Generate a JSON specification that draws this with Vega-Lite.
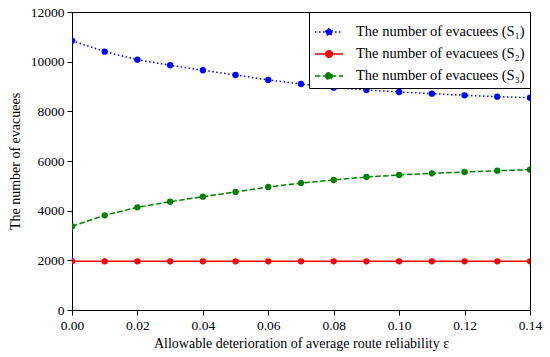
{
  "$schema": "https://vega.github.io/schema/vega-lite/v6.json",
  "width": 458,
  "height": 298,
  "autosize": "none",
  "padding": {"left": 72, "top": 12, "right": 20, "bottom": 47},
  "background": "white",
  "config": {
    "view": {"stroke": "black", "strokeWidth": 1},
    "font": "'Liberation Serif', 'DejaVu Serif', serif",
    "axis": {
      "grid": false,
      "domainColor": "black",
      "tickColor": "black",
      "tickSize": 5,
      "labelFont": "'Liberation Serif', 'DejaVu Serif', serif",
      "labelFontSize": 13.5,
      "labelColor": "black",
      "titleFont": "'Liberation Serif', 'DejaVu Serif', serif",
      "titleFontSize": 14,
      "titleFontWeight": "normal",
      "titleColor": "black"
    }
  },
  "data": {
    "values": [
      {"x": 0.00, "series": "The number of evacuees (S₁)", "value": 10845},
      {"x": 0.01, "series": "The number of evacuees (S₁)", "value": 10403},
      {"x": 0.02, "series": "The number of evacuees (S₁)", "value": 10081},
      {"x": 0.03, "series": "The number of evacuees (S₁)", "value": 9855},
      {"x": 0.04, "series": "The number of evacuees (S₁)", "value": 9653},
      {"x": 0.05, "series": "The number of evacuees (S₁)", "value": 9464},
      {"x": 0.06, "series": "The number of evacuees (S₁)", "value": 9263},
      {"x": 0.07, "series": "The number of evacuees (S₁)", "value": 9100},
      {"x": 0.08, "series": "The number of evacuees (S₁)", "value": 8953},
      {"x": 0.09, "series": "The number of evacuees (S₁)", "value": 8860},
      {"x": 0.10, "series": "The number of evacuees (S₁)", "value": 8780},
      {"x": 0.11, "series": "The number of evacuees (S₁)", "value": 8711},
      {"x": 0.12, "series": "The number of evacuees (S₁)", "value": 8645},
      {"x": 0.13, "series": "The number of evacuees (S₁)", "value": 8590},
      {"x": 0.14, "series": "The number of evacuees (S₁)", "value": 8550},
      {"x": 0.00, "series": "The number of evacuees (S₂)", "value": 1960},
      {"x": 0.01, "series": "The number of evacuees (S₂)", "value": 1960},
      {"x": 0.02, "series": "The number of evacuees (S₂)", "value": 1960},
      {"x": 0.03, "series": "The number of evacuees (S₂)", "value": 1960},
      {"x": 0.04, "series": "The number of evacuees (S₂)", "value": 1960},
      {"x": 0.05, "series": "The number of evacuees (S₂)", "value": 1960},
      {"x": 0.06, "series": "The number of evacuees (S₂)", "value": 1960},
      {"x": 0.07, "series": "The number of evacuees (S₂)", "value": 1960},
      {"x": 0.08, "series": "The number of evacuees (S₂)", "value": 1960},
      {"x": 0.09, "series": "The number of evacuees (S₂)", "value": 1960},
      {"x": 0.10, "series": "The number of evacuees (S₂)", "value": 1960},
      {"x": 0.11, "series": "The number of evacuees (S₂)", "value": 1960},
      {"x": 0.12, "series": "The number of evacuees (S₂)", "value": 1960},
      {"x": 0.13, "series": "The number of evacuees (S₂)", "value": 1960},
      {"x": 0.14, "series": "The number of evacuees (S₂)", "value": 1960},
      {"x": 0.00, "series": "The number of evacuees (S₃)", "value": 3370},
      {"x": 0.01, "series": "The number of evacuees (S₃)", "value": 3813},
      {"x": 0.02, "series": "The number of evacuees (S₃)", "value": 4135},
      {"x": 0.03, "series": "The number of evacuees (S₃)", "value": 4363},
      {"x": 0.04, "series": "The number of evacuees (S₃)", "value": 4563},
      {"x": 0.05, "series": "The number of evacuees (S₃)", "value": 4752},
      {"x": 0.06, "series": "The number of evacuees (S₃)", "value": 4953},
      {"x": 0.07, "series": "The number of evacuees (S₃)", "value": 5110},
      {"x": 0.08, "series": "The number of evacuees (S₃)", "value": 5236},
      {"x": 0.09, "series": "The number of evacuees (S₃)", "value": 5356},
      {"x": 0.10, "series": "The number of evacuees (S₃)", "value": 5437},
      {"x": 0.11, "series": "The number of evacuees (S₃)", "value": 5504},
      {"x": 0.12, "series": "The number of evacuees (S₃)", "value": 5558},
      {"x": 0.13, "series": "The number of evacuees (S₃)", "value": 5610},
      {"x": 0.14, "series": "The number of evacuees (S₃)", "value": 5650}
    ]
  },
  "encoding": {
    "x": {
      "field": "x",
      "type": "quantitative",
      "scale": {"domain": [0, 0.14], "nice": false, "zero": false},
      "axis": {
        "title": "Allowable deterioration of average route reliability ε",
        "values": [0, 0.02, 0.04, 0.06, 0.08, 0.1, 0.12, 0.14],
        "format": ".2f",
        "labelPadding": 3,
        "titlePadding": 5,
        "labelFlush": false
      }
    },
    "y": {
      "field": "value",
      "type": "quantitative",
      "scale": {"domain": [0, 12000], "nice": false},
      "axis": {
        "title": "The number of evacuees",
        "values": [0, 2000, 4000, 6000, 8000, 10000, 12000],
        "format": "d",
        "labelPadding": 3,
        "titlePadding": 8,
        "labelFlush": false
      }
    }
  },
  "layer": [
    {
      "mark": {"type": "line", "strokeWidth": 1.5, "clip": true},
      "encoding": {
        "color": {
          "field": "series",
          "type": "nominal",
          "scale": {
            "domain": ["The number of evacuees (S₁)", "The number of evacuees (S₂)", "The number of evacuees (S₃)"],
            "range": ["#0000ff", "#ff0000", "#008000"]
          },
          "legend": {
            "title": null,
            "orient": "top-right",
            "offset": 0,
            "padding": 5,
            "rowPadding": -8,
            "strokeColor": "black",
            "fillColor": "white",
            "cornerRadius": 0,
            "symbolType": "M-1,0H1M-0.236,0A0.236,0.236,0,1,1,0.236,0A0.236,0.236,0,1,1,-0.236,0Z",
            "symbolSize": 784,
            "symbolStrokeWidth": 1.5,
            "labelFont": "'Liberation Serif', 'DejaVu Serif', serif",
            "labelFontSize": 14.5,
            "labelColor": "black",
            "labelLimit": 300,
            "labelOffset": 12,
            "encode": {
              "symbols": {
                "update": {
                  "fill": {"scale": "color", "field": "value"},
                  "stroke": {"scale": "color", "field": "value"}
                }
              }
            }
          }
        },
        "strokeDash": {
          "field": "series",
          "type": "nominal",
          "scale": {
            "domain": ["The number of evacuees (S₁)", "The number of evacuees (S₂)", "The number of evacuees (S₃)"],
            "range": [[1.5, 2.5], [1, 0], [5.5, 2.4]]
          }
        }
      }
    },
    {
      "mark": {"type": "point", "filled": true, "size": 40, "opacity": 1, "clip": true},
      "encoding": {
        "color": {"field": "series", "type": "nominal"}
      }
    }
  ]
}
